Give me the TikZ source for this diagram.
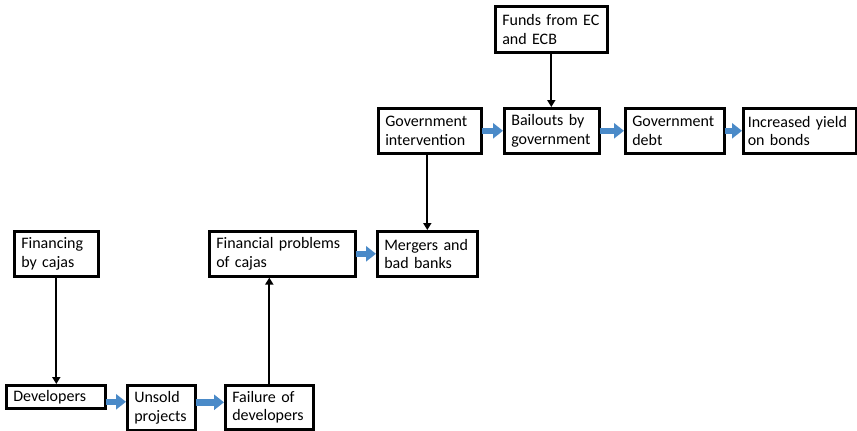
\documentclass[tikz,border=0pt]{standalone}
\usepackage{fontspec}
\setmainfont{Carlito}
\usetikzlibrary{arrows.meta}
\definecolor{flowblue}{RGB}{74,138,200}
\tikzset{
  x=1pt, y=-1pt,
  box/.style={draw, line width=2.6pt, anchor=north west, align=left,
    inner xsep=7pt, inner ysep=0pt,
    font=\fontsize{16}{18.5}\selectfont},
  link/.style={draw, line width=2.3pt, -{Triangle[length=7pt,width=8pt]}},
  push/.style={draw=flowblue, line width=6.5pt,
    -{Triangle[length=10pt,width=15pt]}, shorten <=-1pt},
}
\begin{document}
\begin{tikzpicture}
\useasboundingbox (0,0) rectangle (857,431);

% lower chain
\node[box, text width=70pt, minimum height=45pt] (fin) at (13,230) {Financing\\by cajas};
\node[box, text width=85pt, minimum height=23pt] (dev) at (5,384) {Developers};
\node[box, text width=54pt, minimum height=45pt] (uns) at (126,384) {Unsold\\projects};
\node[box, text width=74pt, minimum height=44pt] (fail) at (224,384) {Failure of\\developers};

% middle row
\node[box, text width=132pt, minimum height=45pt] (prob) at (208,230) {Financial problems\\of cajas};
\node[box, text width=86pt, minimum height=45pt] (merg) at (376,230) {Mergers and\\bad banks};

% upper row
\node[box, text width=98pt, minimum height=46pt] (ecb) at (494,5) {Funds from EC\\and ECB};
\node[box, text width=89pt, minimum height=45pt] (gov) at (377,107) {Government\\intervention};
\node[box, text width=81pt, minimum height=45pt] (bail) at (503,107) {Bailouts by\\government};
\node[box, text width=85pt, minimum height=45pt] (debt) at (624,107) {Government\\debt};
\node[box, text width=104pt, inner xsep=4.5pt, minimum height=45pt] (yield) at (742,107) {\mbox{Increased yield}\\on bonds};

% black connectors
\draw[link] (fin.south) -- (fin.south |- dev.north);
\draw[link] (fail.north) -- (fail.north |- prob.south);
\draw[link] (merg.north |- gov.south) -- (merg.north);
\draw[link] (ecb.south) -- (ecb.south |- bail.north);

% blue flow arrows
\draw[push] ([yshift=-5pt]dev.east) -- ([yshift=-5pt]dev.east -| uns.west);
\draw[push] ([yshift=5pt]fail.west -| uns.east) -- ([yshift=5pt]fail.west);
\draw[push] (prob.east) -- (prob.east -| merg.west);
\draw[push] (gov.east) -- (gov.east -| bail.west);
\draw[push] (bail.east) -- (bail.east -| debt.west);
\draw[push] (debt.east) -- (debt.east -| yield.west);
\end{tikzpicture}
\end{document}
